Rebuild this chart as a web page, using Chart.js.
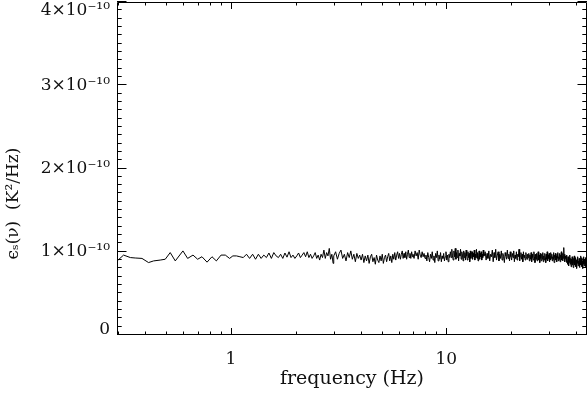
<!DOCTYPE html>
<html><head><meta charset="utf-8">
<script src="https://cdn.jsdelivr.net/npm/chart.js@4.4.1/dist/chart.umd.min.js"></script>
<style>html,body{margin:0;padding:0;background:#fff;}</style>
</head><body>
<canvas id="c" width="588" height="393"></canvas>
<script>
// ---- data (epsilon in units of 1e-10 K^2/Hz) ----
const lowFreqHz = [0.296,0.317,0.341,0.359,0.386,0.414,0.437,0.469,0.495,0.522,0.551,0.598,0.629,0.666,0.700,0.733,0.774,0.816,0.855,0.899,0.941,0.985];
const lowEps = [0.89,0.96,0.93,0.925,0.92,0.87,0.89,0.90,0.91,0.99,0.89,1.01,0.92,0.96,0.91,0.94,0.875,0.94,0.89,0.96,0.96,0.92];

const band1Start = 1.02, band1Step = 0.04;
const band1Eps = [0.95,0.95,0.94,0.93,0.97,0.92,0.97,0.91,0.97,0.92,0.96,0.93,0.985,0.92,0.99,0.95,0.93,0.97,0.92,0.985,0.935,1.0,0.93,0.96,0.92,0.95,0.985,0.93,0.96,0.99,0.94,1.0,0.93,0.97,0.92,0.95,0.99,0.92,0.96,0.90,0.97,0.93,1.02,0.92,0.99,0.95,1.04,0.91,0.97,0.86];

const band2Start = 3.0, band2Step = 0.06;
const band2Eps = [0.95,1.00,0.91,0.98,1.02,0.92,0.97,0.89,0.99,0.93,1.01,0.91,0.97,0.88,0.98,0.92,0.96,
  0.90,0.97,0.87,0.95,0.89,0.96,0.86,0.94,0.97,0.88,0.93,0.85,0.96,0.90,0.87,0.95,0.89,0.97,0.86,0.93,0.96,0.88,0.94,0.98,0.89,0.95,0.87,0.97,0.91,0.99,0.90,0.96,1.00,
  0.92,0.98,0.91,0.97,1.01,0.92,0.98,0.93,1.00,0.91,0.97,1.02,0.93,0.98,0.92,1.00,0.94];

const band3Start = 7.0, band3Step = 0.08;
const band3Eps = [0.97,0.92,1.01,0.95,0.99,0.91,1.02,0.96,0.93,1.00,0.94,0.98,0.92,
  0.96,0.89,0.99,0.93,0.88,0.97,0.92,1.00,0.90,0.95,0.87,0.98,0.93,1.01,0.89,0.96,0.91,0.99,0.88,0.95,0.92,0.98,0.89,0.94,1.00,0.90,0.96,0.88,0.97,0.93,
  1.00,0.93,1.03,0.95,0.90,1.01,0.94,1.04,0.91,0.99,0.93,1.02,0.89,0.98,0.95,1.03,0.91,1.00,0.96,0.89,1.01,0.93,0.99,0.90,1.02,0.95,0.90,1.00,0.93,0.98,0.88,1.01,0.92,0.97,1.00,0.91,0.98,0.94,1.02,0.90,0.97,0.93,1.03,0.92,0.99,0.89,0.96,1.01,0.91,0.98,0.94,1.00,0.90,0.97,0.93,1.02,0.95];

const band4Start = 15.0, band4Step = 0.15;
const band4Eps = [0.95,1.00,0.90,0.98,0.92,1.01,0.89,0.97,0.94,1.02,0.88,0.99,0.93,1.03,0.90,0.96,1.00,0.89,0.97,0.92,
  1.01,0.90,0.98,0.94,0.87,0.99,0.95,0.91,1.02,0.92,0.97,0.89,1.00,0.94,0.90,0.98,0.93,1.01,0.88,0.96,
  0.92,1.00,0.90,0.97,0.94,1.03,0.89,0.95,0.99,0.91,0.97,0.88,1.00,0.93,0.96,0.90,0.99,0.94,0.91,0.97,
  0.93,0.98,0.89,0.96,0.91,0.99,0.88,0.97,0.93,0.90,1.00,0.94,0.87,0.97,0.91,0.98,0.89,0.95,1.00,0.90,
  0.96,0.87,0.98,0.92,0.89,0.97,0.91,0.99,0.88,0.95,0.90,0.98,0.93,0.87,0.97,0.91,1.00,0.89,0.96,0.92,
  0.98,0.88,0.95,0.90,0.99,0.92,0.97,0.89,0.94,0.91,0.99,0.87,0.96,0.93,0.98,0.90,0.95,0.88,0.97,0.92,
  0.99,0.89,0.94,0.91,0.98,0.88,0.96,0.93,1.00,0.90,0.95,0.89,0.98,0.92,1.05,0.90,0.97,0.88,0.95,0.92,
  0.94,0.87,0.96,0.89,0.85,0.94,0.88,0.83,0.93,0.87,0.96,0.85,0.92,0.82,0.91,0.86,0.94,0.84,0.90,0.81,
  0.92,0.86,0.95,0.84,0.89,0.82,0.93,0.85,0.90,0.80,0.91,0.86,0.94,0.83,0.89,0.85,0.92,0.81,0.90,0.87,
  0.95,0.84,0.91,0.82,0.93,0.86,0.89,0.80,0.92,0.85,0.94,0.83,0.90,0.86,0.88,0.82,0.93,0.84,0.91,0.87];

const xMajorTicks = [1, 10];
const xTickLabels = ['1', '10'];
const xMinorTicks = [0.3,0.4,0.5,0.6,0.7,0.8,0.9,2,3,4,5,6,7,8,9,20,30,40];
const yMajorTicks = [0, 1, 2, 3, 4];
const yTickLabels = ['0', '1×10⁻¹⁰', '2×10⁻¹⁰', '3×10⁻¹⁰', '4×10⁻¹⁰'];

// ---- build points ----
const points = [];
lowFreqHz.forEach((f, i) => points.push({x: f, y: lowEps[i]}));
[[band1Start, band1Step, band1Eps],[band2Start, band2Step, band2Eps],[band3Start, band3Step, band3Eps],[band4Start, band4Step, band4Eps]]
  .forEach(([s, st, arr]) => arr.forEach((v, i) => points.push({x: +(s + i*st).toFixed(4), y: v})));

const yMinorTicks = [];
for (let i = 0; i <= 40; i++) if (i % 10) yMinorTicks.push(i/10);

const FONT = 'DejaVu Serif';

const frameTicks = {
  id: 'frameTicks',
  afterDatasetsDraw(chart) {
    const {ctx, chartArea: a, scales: {x, y}} = chart;
    ctx.save();
    ctx.strokeStyle = '#000';
    ctx.lineWidth = 1;
    ctx.beginPath();
    ctx.rect(a.left + 0.5, a.top + 0.5, a.right - a.left - 1, a.bottom - a.top - 1);
    const xt = (v, len) => {
      const px = Math.round(x.getPixelForValue(v)) + 0.5;
      ctx.moveTo(px, a.bottom); ctx.lineTo(px, a.bottom - len);
      ctx.moveTo(px, a.top); ctx.lineTo(px, a.top + len);
    };
    const yt = (v, len) => {
      const py = Math.round(y.getPixelForValue(v)) - 0.5;
      ctx.moveTo(a.left, py); ctx.lineTo(a.left + len, py);
      ctx.moveTo(a.right, py); ctx.lineTo(a.right - len, py);
    };
    xMajorTicks.forEach(v => xt(v, 7));
    xMinorTicks.forEach(v => xt(v, 3.5));
    yMajorTicks.forEach(v => yt(v, 9.5));
    yMinorTicks.forEach(v => yt(v, 4.7));
    ctx.stroke();
    ctx.restore();
  }
};

new Chart(document.getElementById('c'), {
  type: 'line',
  data: {
    datasets: [{
      data: points,
      borderColor: '#000',
      borderWidth: 1,
      pointRadius: 0,
      tension: 0,
      fill: false
    }]
  },
  options: {
    responsive: false,
    animation: false,
    devicePixelRatio: 1,
    layout: {padding: {top: 2, right: 1, left: 0, bottom: 0}},
    plugins: {legend: {display: false}, tooltip: {enabled: false}},
    scales: {
      x: {
        type: 'logarithmic',
        min: 0.2955,
        max: 45,
        grid: {display: false, drawTicks: false},
        border: {display: false},
        afterBuildTicks: s => { s.ticks = xMajorTicks.map(v => ({value: v})); },
        afterFit: s => { s.height = 58; s.paddingLeft = 0; s.paddingRight = 0; },
        ticks: {
          autoSkip: false, maxRotation: 0, padding: 14, color: '#111',
          font: {family: FONT, size: 17},
          callback: (v, i) => xTickLabels[i]
        },
        title: {display: true, text: 'frequency (Hz)', color: '#111',
          font: {family: FONT, size: 19}, padding: {top: 0, bottom: 3}}
      },
      y: {
        type: 'linear',
        min: 0,
        max: 4,
        grid: {display: false, drawTicks: false},
        border: {display: false},
        afterBuildTicks: s => { s.ticks = yMajorTicks.map(v => ({value: v})); },
        afterFit: s => { s.width = 117; s.paddingTop = 0; s.paddingBottom = 0; },
        ticks: {
          autoSkip: false, padding: 7, color: '#111',
          font: ctx => ({family: FONT, size: 17,
            lineHeight: (ctx.tick && ctx.tick.value === 0) ? '10px' : '17px'}),
          callback: (v, i) => {
            const t = yTickLabels[i];
            if (v === 4) return ['', t];
            if (v === 0) return [t, ''];
            return t;
          }
        },
        title: {display: true, text: 'ϵₛ(ν)  (K²/Hz)             ', color: '#111',
          font: {family: FONT, size: 17}, padding: {top: 3, bottom: 0}}
      }
    }
  },
  plugins: [frameTicks]
});
</script>
</body></html>
